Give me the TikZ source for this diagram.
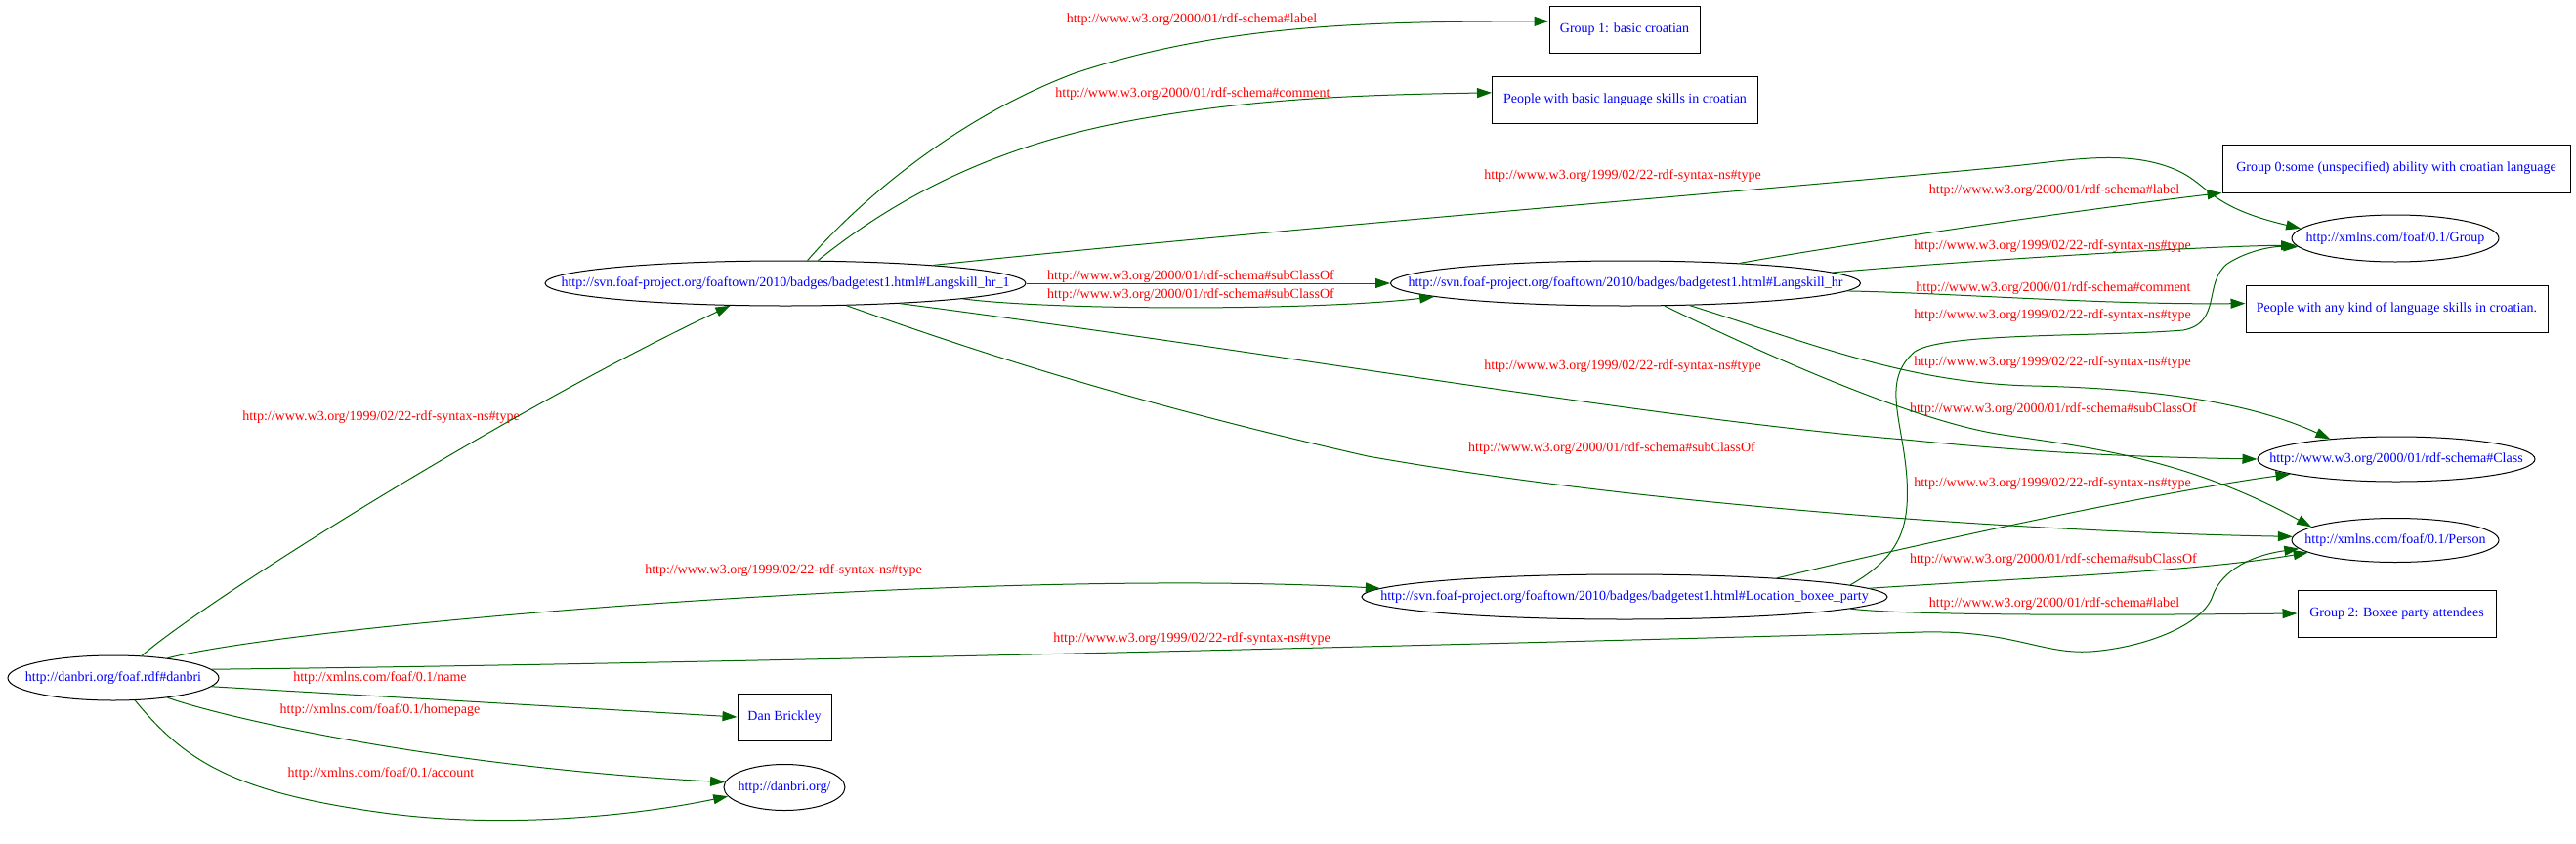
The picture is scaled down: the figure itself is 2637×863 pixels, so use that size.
\documentclass[tikz,border=0pt]{standalone}
\usepackage{fontspec}
\setmainfont{Liberation Serif}
\usetikzlibrary{shapes.geometric,arrows.meta}
\definecolor{edgegreen}{HTML}{006400}
\definecolor{uriblue}{HTML}{0000FF}
\definecolor{propred}{HTML}{FF0000}
\newcommand{\uritext}[1]{\makebox[0pt]{#1}}
\newcommand{\rdftype}{http://www.w3.org/1999/02/22-rdf-syntax-ns\#type}
\newcommand{\subclassof}{http://www.w3.org/2000/01/rdf-schema\#subClassOf}
\newcommand{\rdfslabel}{http://www.w3.org/2000/01/rdf-schema\#label}
\newcommand{\rdfscomment}{http://www.w3.org/2000/01/rdf-schema\#comment}

\begin{document}
\begin{tikzpicture}[x=1pt,y=-1pt,
  font=\fontsize{14}{16}\selectfont,
  res/.style={ellipse, draw, line width=1pt, text=uriblue, inner sep=0pt, minimum height=46pt},
  lit/.style={rectangle, draw, line width=1pt, text=uriblue, inner sep=0pt, minimum height=48pt},
  prop/.style={text=propred, inner sep=0pt},
  rel/.style={draw=edgegreen, line width=1pt, -{Triangle[length=15pt,width=10pt]}}]
\useasboundingbox (0,0) rectangle (2637,863);

% resources
\node[res, minimum width=216pt] (danbri) at (116,694) {\uritext{http://danbri.org/foaf.rdf\#danbri}};
\node[res, minimum width=492pt] (hr1) at (804,290) {\uritext{http://svn.foaf-project.org/foaftown/2010/badges/badgetest1.html\#Langskill\_hr\_1}};
\node[res, minimum width=481pt] (hr) at (1664,290) {\uritext{http://svn.foaf-project.org/foaftown/2010/badges/badgetest1.html\#Langskill\_hr}};
\node[res, minimum width=538pt] (party) at (1663,611) {\uritext{http://svn.foaf-project.org/foaftown/2010/badges/badgetest1.html\#Location\_boxee\_party}};
\node[res, minimum width=212pt, minimum height=48pt] (group) at (2452,244) {\uritext{http://xmlns.com/foaf/0.1/Group}};
\node[res, minimum width=284pt] (class) at (2453,470) {\uritext{http://www.w3.org/2000/01/rdf-schema\#Class}};
\node[res, minimum width=212pt, minimum height=45pt] (person) at (2452,553) {\uritext{http://xmlns.com/foaf/0.1/Person}};
\node[res, minimum width=124pt, minimum height=47pt] (homepage) at (803,806) {\uritext{http://danbri.org/}};

% literals
\node[lit, minimum width=154pt] (group1) at (1663,30) {Group 1: basic croatian};
\node[lit, minimum width=272pt] (basic) at (1663.5,102) {People with basic language skills in croatian};
\node[lit, minimum width=356pt, minimum height=49pt] (group0) at (2453,172.5) {Group 0:some (unspecified) ability with croatian language};
\node[lit, minimum width=309pt] (anykind) at (2453.5,316) {People with any kind of language skills in croatian.};
\node[lit, minimum width=203pt] (group2) at (2453.5,628) {Group 2: Boxee party attendees};
\node[lit, minimum width=96pt] (name) at (803,734) {Dan Brickley};

% property labels
\node[prop] (ltype1) at (390,427) {\rdftype};
\node[prop] (ltype2) at (802,584) {\rdftype};
\node[prop] (ltype3) at (1220,654) {\rdftype};
\node[prop] (lname) at (389,694) {http://xmlns.com/foaf/0.1/name};
\node[prop] (lhomepage) at (389,727) {http://xmlns.com/foaf/0.1/homepage};
\node[prop] (laccount) at (390,792) {http://xmlns.com/foaf/0.1/account};
\node[prop] (llabel1) at (1220,20) {\rdfslabel};
\node[prop] (lcomment1) at (1221,96) {\rdfscomment};
\node[prop] (ltype4) at (1661,180) {\rdftype};
\node[prop] (lsub1) at (1219,283) {\subclassof};
\node[prop] (lsub2) at (1219,302) {\subclassof};
\node[prop] (ltype5) at (1661,375) {\rdftype};
\node[prop] (lsub3) at (1650,459) {\subclassof};
\node[prop] (llabel2) at (2103,195) {\rdfslabel};
\node[prop] (ltype6) at (2101,252) {\rdftype};
\node[prop] (lcomment2) at (2102,295) {\rdfscomment};
\node[prop] (ltype7) at (2101,323) {\rdftype};
\node[prop] (ltype8) at (2101,371) {\rdftype};
\node[prop] (lsub4) at (2102,419) {\subclassof};
\node[prop] (ltype9) at (2101,495) {\rdftype};
\node[prop] (lsub5) at (2102,573) {\subclassof};
\node[prop] (llabel3) at (2103,618) {\rdfslabel};

% edges from danbri
\draw[rel] (danbri.38) .. controls (210,615) and (520,420) .. (hr1.202);
\draw[rel] (danbri.20) .. controls (300,640) and (1000,580) .. (party.178);
\draw[rel] (danbri.5) .. controls (700,680) and (1500,660) .. (1968,647) .. controls (2060,645) and (2090,670) .. (2140,667) .. controls (2195,663) and (2255,640) .. (2265,610) .. controls (2272,590) and (2295,570) .. (person.185);
\draw[rel] (danbri.-5) -- (name.west);
\draw[rel] (danbri.-20) .. controls (230,735) and (450,785) .. (homepage.175);
\draw[rel] (danbri.-46) .. controls (190,780) and (240,812) .. (400,833) .. controls (520,848) and (650,835) .. (homepage.189);

% edges from Langskill_hr_1
\draw[rel] (hr1.46) .. controls (880,205) and (980,120) .. (1100,75) .. controls (1250,25) and (1400,22) .. (group1.174);
\draw[rel] (hr1.35) .. controls (920,200) and (1020,150) .. (1150,125) .. controls (1280,100) and (1400,97) .. (basic.177);
\draw[rel] (hr1.7) .. controls (1300,235) and (1800,195) .. (2060,170) .. controls (2120,164) and (2180,152) .. (2230,175) .. controls (2262,190) and (2262,212) .. (group.174);
\draw[rel] (hr1) -- (hr);
\draw[rel] (hr1.-5) .. controls (1080,318) and (1350,318) .. (hr.184);
\draw[rel] (hr1.-10) .. controls (1300,360) and (1700,430) .. (1950,450) .. controls (2100,465) and (2200,468) .. (class.west);
\draw[rel] (hr1.-20) .. controls (1000,360) and (1150,410) .. (1400,467) .. controls (1700,520) and (2100,545) .. (person.178);

% edges from Langskill_hr
\draw[rel] (hr.10) .. controls (1900,248) and (2150,212) .. (group0.south west);
\draw[rel] (hr.3) .. controls (2000,268) and (2250,252) .. (group.184);
\draw[rel] (hr.-2) .. controls (2000,300) and (2150,312) .. (anykind.178);
\draw[rel] (hr.-19) .. controls (1850,350) and (1950,392) .. (2080,395) .. controls (2220,398) and (2310,415) .. (class.163);
\draw[rel] (hr.-30) .. controls (1800,360) and (1960,432) .. (2050,445) .. controls (2140,458) and (2240,470) .. (person.171);

% edges from Location_boxee_party
\draw[rel] (party.3) .. controls (1945,570) and (1955,540) .. (1952,490) .. controls (1948,430) and (1925,390) .. (1960,360) .. controls (1990,340) and (2150,345) .. (2235,338) .. controls (2275,330) and (2255,290) .. (2280,270) .. controls (2300,257) and (2325,252) .. (group.185);
\draw[rel] (party.7) .. controls (1950,560) and (2200,505) .. (class.188);
\draw[rel] (party.2) .. controls (2100,590) and (2250,585) .. (person.188);
\draw[rel] (party.-3) .. controls (1950,630) and (2150,630) .. (group2.west);
\end{tikzpicture}
\end{document}
